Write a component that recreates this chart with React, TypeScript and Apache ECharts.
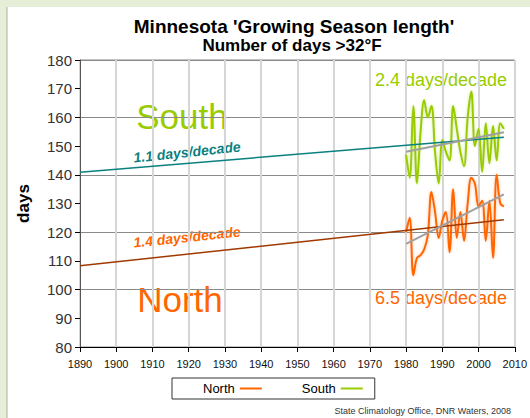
import { useEffect, useRef } from 'react';
import * as echarts from 'echarts';

const years = [1980, 1981, 1982, 1983, 1984, 1985, 1986, 1987, 1988, 1989, 1990, 1991, 1992, 1993, 1994, 1995, 1996, 1997, 1998, 1999, 2000, 2001, 2002, 2003, 2004, 2005, 2006, 2007];
const northDays = [120, 125, 105, 111, 112, 114, 119, 134, 127, 118, 124, 127, 113, 135, 118, 127, 117, 130, 139, 137, 129, 131, 117, 131, 111, 140, 130, 129];
const southDays = [147, 139, 164, 137, 155, 166, 160, 164, 148, 137, 152, 148, 145, 164, 156, 148, 143, 160, 169, 150, 156, 141, 158, 144, 157, 145, 158, 156];

const southLongTrend = [[1890, 140.9], [2007, 153.1]];
const northLongTrend = [[1890, 108.3], [2007, 124.3]];
const southRecentTrend = [[1980, 148.0], [2007, 154.8]];
const northRecentTrend = [[1980, 115.9], [2007, 133.2]];

const titleText = "Minnesota 'Growing Season length'";
const subtitleText = 'Number of days >32°F';
const southLabel = 'South';
const northLabel = 'North';
const southLongRate = '1.1 days/decade';
const northLongRate = '1.4 days/decade';
const southRecentRate = '2.4 days/decade';
const northRecentRate = '6.5 days/decade';
const sourceText = 'State Climatology Office, DNR Waters, 2008';

const FONT = "'Liberation Sans', Arial, sans-serif";
const ORANGE = '#ff6600';
const GREEN = '#99cc00';

export default function App() {
  const ref = useRef<HTMLDivElement>(null);
  useEffect(() => {
    const chart = echarts.init(ref.current!, null, { renderer: 'svg' });
    const rot = (6 * Math.PI) / 180;
    chart.setOption({
      animation: false,
      backgroundColor: '#e6eed8',
      textStyle: { fontFamily: FONT },
      grid: { left: 80, top: 60, right: 14, bottom: 71, show: true, borderColor: '#888', borderWidth: 1, backgroundColor: 'transparent' },
      legend: {
        data: ['North', 'South'],
        left: 172,
        top: 378,
        orient: 'horizontal',
        padding: [4, 12, 4, 31],
        itemGap: 40,
        itemWidth: 22,
        itemHeight: 2,
        align: 'right',
        icon: 'rect',
        borderColor: '#333',
        borderWidth: 1,
        backgroundColor: '#fff',
        textStyle: { fontSize: 13, color: '#000', fontFamily: FONT },
      },
      xAxis: {
        type: 'value',
        min: 1890,
        max: 2010,
        interval: 10,
        axisLine: { lineStyle: { color: '#000', width: 1 } },
        axisTick: { show: true, length: 5, lineStyle: { color: '#000' } },
        axisLabel: { fontSize: 11, color: '#111', margin: 11, formatter: (v: number) => String(v) },
        splitLine: { show: true, lineStyle: { color: '#d6d6d6', width: 2 } },
      },
      yAxis: [
        {
          type: 'value',
          min: 80,
          max: 180,
          interval: 10,
          name: 'days',
          nameLocation: 'middle',
          nameRotate: 90,
          nameGap: 48,
          nameTextStyle: { fontSize: 17, fontWeight: 'bold', color: '#000', fontFamily: FONT },
          axisLine: { show: true, lineStyle: { color: '#555', width: 1 } },
          axisTick: { show: true, length: 5, lineStyle: { color: '#000' } },
          axisLabel: { fontSize: 15, color: '#333', margin: 8 },
          splitLine: { show: false },
        },
        {
          type: 'value',
          min: 80,
          max: 180,
          interval: 20,
          position: 'left',
          axisLine: { show: false },
          axisTick: { show: false },
          axisLabel: { show: false },
          splitLine: { show: true, lineStyle: { color: '#8a8a8a', width: 1 } },
        },
      ],
      series: [
        {
          name: 'North',
          type: 'line',
          data: years.map((y, i) => [y, northDays[i]]),
          smooth: 0.35,
          symbol: 'none',
          z: 3,
          color: ORANGE,
          lineStyle: { color: ORANGE, width: 2, shadowColor: 'rgba(255,140,60,0.55)', shadowBlur: 3 },
        },
        {
          name: 'South',
          type: 'line',
          data: years.map((y, i) => [y, southDays[i]]),
          smooth: 0.35,
          symbol: 'none',
          z: 3,
          color: GREEN,
          lineStyle: { color: GREEN, width: 2, shadowColor: 'rgba(170,210,60,0.55)', shadowBlur: 3 },
        },
        {
          name: 'South long-term trend',
          type: 'line',
          data: southLongTrend,
          symbol: 'none',
          z: 4,
          lineStyle: { color: '#0a8080', width: 1.5 },
        },
        {
          name: 'North long-term trend',
          type: 'line',
          data: northLongTrend,
          symbol: 'none',
          z: 4,
          lineStyle: { color: '#a03800', width: 1.5 },
        },
        {
          name: 'South recent trend',
          type: 'line',
          data: southRecentTrend,
          symbol: 'none',
          z: 5,
          lineStyle: { color: '#a0a0a0', width: 2 },
        },
        {
          name: 'North recent trend',
          type: 'line',
          data: northRecentTrend,
          symbol: 'none',
          z: 5,
          lineStyle: { color: '#a0a0a0', width: 2 },
        },
      ],
      graphic: [
        { type: 'rect', z: -100, silent: true, shape: { x: 7, y: 7, width: 530, height: 420 }, style: { fill: '#fff' } },
        { type: 'line', z: -99, silent: true, shape: { x1: 7, y1: 7, x2: 7, y2: 418 }, style: { stroke: '#a8b0a0', lineWidth: 1 } },
        { type: 'text', x: 294, y: 26, style: { text: titleText, font: `bold 19px ${FONT}`, fill: '#000', textAlign: 'center', textVerticalAlign: 'middle' } },
        { type: 'text', x: 292, y: 45, style: { text: subtitleText, font: `bold 17px ${FONT}`, fill: '#000', textAlign: 'center', textVerticalAlign: 'middle' } },
        { type: 'text', x: 182, y: 116, style: { text: southLabel, font: `35px ${FONT}`, fill: GREEN, textAlign: 'center', textVerticalAlign: 'middle' } },
        { type: 'text', x: 180, y: 299, style: { text: northLabel, font: `35px ${FONT}`, fill: ORANGE, textAlign: 'center', textVerticalAlign: 'middle' } },
        { type: 'text', x: 187, y: 152, rotation: rot, style: { text: southLongRate, font: `italic bold 14px ${FONT}`, fill: '#0a8080', textAlign: 'center', textVerticalAlign: 'middle' } },
        { type: 'text', x: 187, y: 237, rotation: rot, style: { text: northLongRate, font: `italic bold 14px ${FONT}`, fill: ORANGE, textAlign: 'center', textVerticalAlign: 'middle' } },
        { type: 'text', x: 441, y: 80, style: { text: southRecentRate, font: `18px ${FONT}`, fill: GREEN, textAlign: 'center', textVerticalAlign: 'middle' } },
        { type: 'text', x: 441, y: 298, style: { text: northRecentRate, font: `18px ${FONT}`, fill: ORANGE, textAlign: 'center', textVerticalAlign: 'middle' } },
        { type: 'text', x: 511, y: 411, style: { text: sourceText, font: `9px ${FONT}`, fill: '#333', textAlign: 'right', textVerticalAlign: 'middle' } },
      ],
    });
    return () => chart.dispose();
  }, []);
  return <div ref={ref} style={{ position: 'fixed', left: 0, top: 0, width: 530, height: 418 }} />;
}
